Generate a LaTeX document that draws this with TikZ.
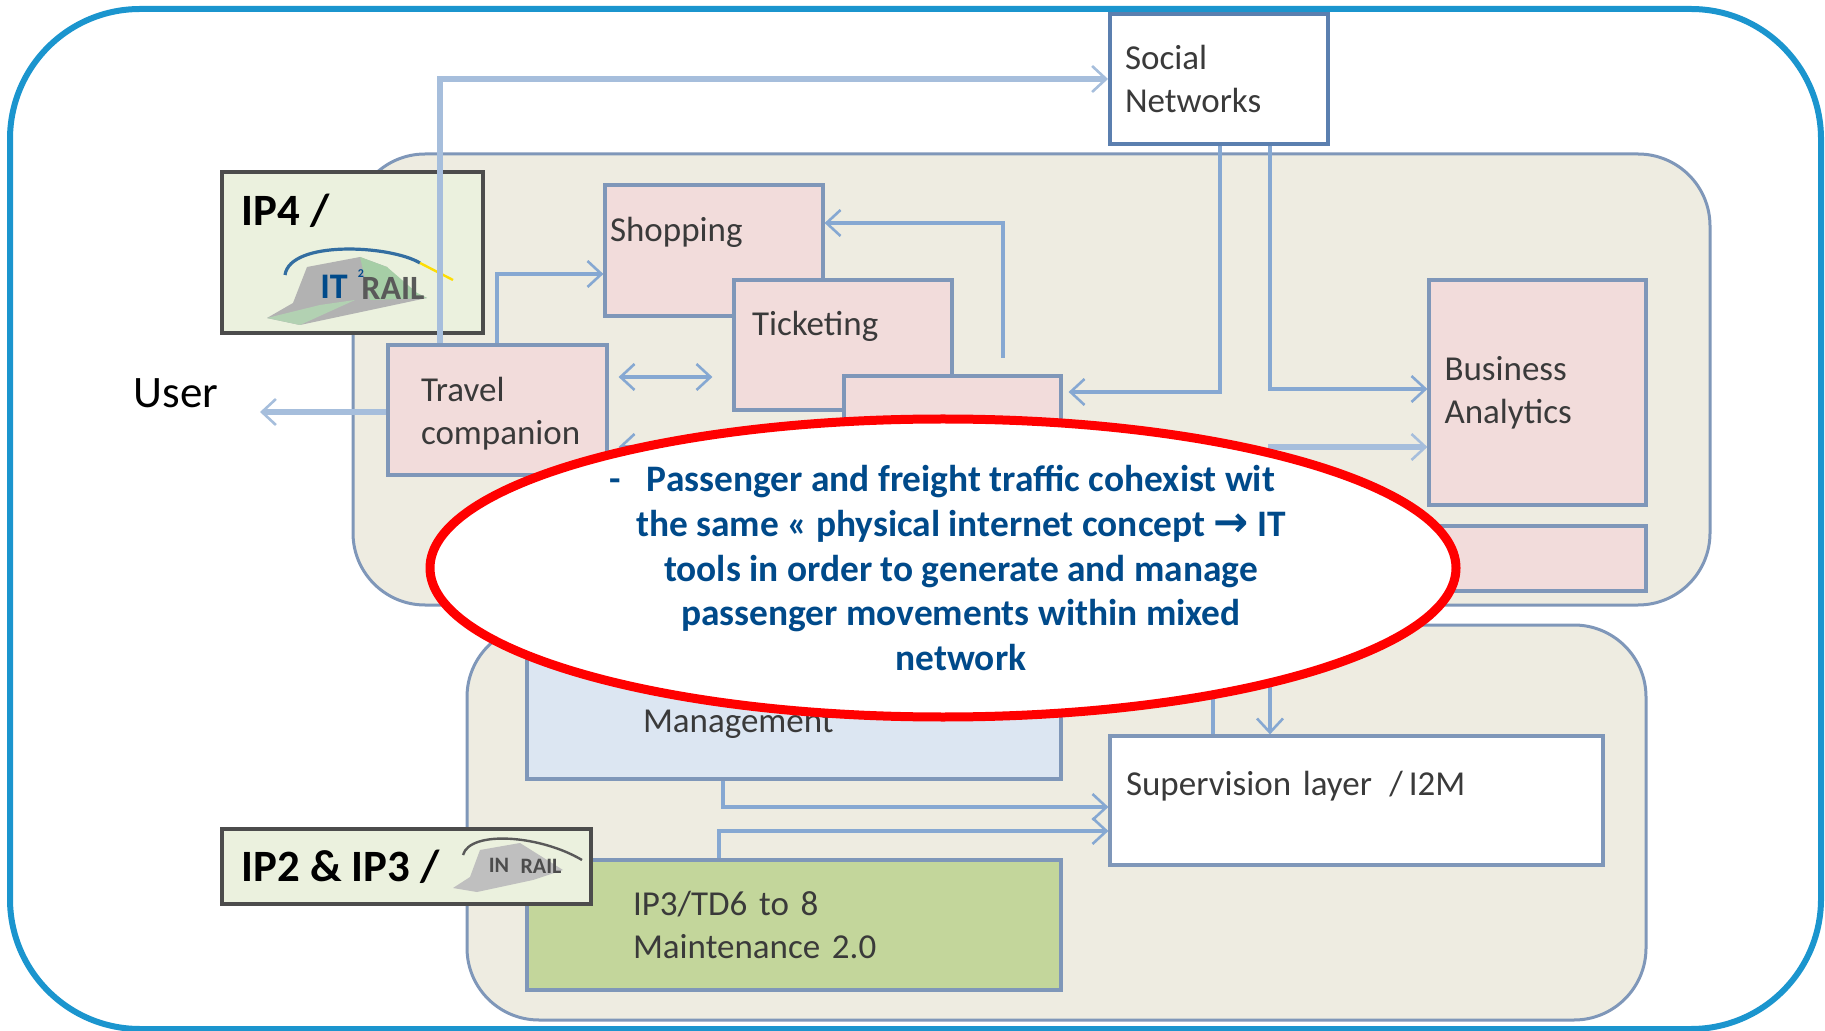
\documentclass[tikz,border=0pt]{standalone}
\usepackage{xcolor}
\usepackage{fontspec}
\setmainfont{Carlito}
\newfontfamily\arrowfont{DejaVu Sans}
\usetikzlibrary{arrows.meta,shapes.geometric}

\definecolor{framecol}{HTML}{1B95CE}
\definecolor{panelcol}{HTML}{EEECE1}
\definecolor{edgecol}{HTML}{7F97B9}
\definecolor{linkcol}{HTML}{86A8D2}
\definecolor{palelink}{HTML}{A6BEDC}
\definecolor{socialcol}{HTML}{5B7FAF}
\definecolor{pinkcol}{HTML}{F2DCDB}
\definecolor{iceblue}{HTML}{DCE6F2}
\definecolor{leafcol}{HTML}{C3D69B}
\definecolor{tagcol}{HTML}{EBF1DE}
\definecolor{notecol}{HTML}{004A8A}
\definecolor{textcol}{HTML}{3A3A3A}

\begin{document}
\begin{tikzpicture}[x=0.5pt,y=-0.5pt,
  >={Straight Barb[length=7pt,width=13pt,line width=1.3pt]}]

    \tikzstyle{frame} = [rectangle,draw=framecol,line width=3pt,rounded corners=65pt,minimum width=905.5pt,minimum height=510pt]
    \tikzstyle{panel} = [rectangle,fill=panelcol,draw=edgecol,line width=1.5pt,rounded corners=36pt]
    \tikzstyle{box} = [rectangle,draw=edgecol,line width=1.6pt,text=textcol,align=left,inner ysep=0pt,font=\fontsize{17.5}{21.5}\selectfont]
    \tikzstyle{pinkbox} = [box,fill=pinkcol]
    \tikzstyle{tag} = [rectangle,fill=tagcol,draw=black!70,line width=1.6pt]
    \tikzstyle{tagtext} = [anchor=west,inner sep=0pt,text=black,font=\fontsize{22.4}{26}\selectfont\bfseries]
    \tikzstyle{link} = [draw=linkcol,line width=1.8pt]
    \tikzstyle{widelink} = [draw=palelink,line width=2.6pt]

  \useasboundingbox (0,0) rectangle (1825,1031);

  \node[frame] (frame) at (915.5,519) {};
  \node[panel,minimum width=678.5pt,minimum height=225.5pt] (upper) at (1031.5,379.5) {};
  \node[panel,minimum width=589.5pt,minimum height=197.5pt] (lower) at (1056.5,822.5) {};

  \node[box,fill=white,draw=socialcol,line width=2pt,minimum width=109pt,minimum height=65pt,text width=94pt,inner xsep=7.5pt] (social) at (1219,79) {Social\\Networks};
  \node[tag,minimum width=130.5pt,minimum height=80.5pt] (ip4) at (352.5,252.5) {};
  \node[pinkbox,minimum width=109.5pt,minimum height=65pt,text width=76.5pt,inner xsep=16.5pt] (travel) at (497.5,410) {\rule{0pt}{16pt}Travel\\companion};
  \node[pinkbox,minimum width=109pt,minimum height=65.5pt,text width=104pt,inner xsep=2.5pt] (shopping) at (714,250.5) {Shopping\\~};
  \node[pinkbox,minimum width=109pt,minimum height=65pt,text width=91pt,inner xsep=9pt] (ticketing) at (843,345) {Ticketing\\~};
  \node[pinkbox,minimum width=108.5pt,minimum height=65pt] (thirdbox) at (952.5,441) {};
  \node[pinkbox,minimum width=108.5pt,minimum height=112.5pt,text width=93pt,inner xsep=7.75pt] (business) at (1537.5,392.5) {Business\\Analytics};
  \node[pinkbox,minimum width=108.5pt,minimum height=32.5pt] (lowerpink) at (1537.5,558.5) {};
  \node[box,fill=iceblue,minimum width=267pt,minimum height=65pt,text width=151pt,inner xsep=58pt] (manage) at (794,714) {~\\Management};
  \node[box,fill=white,minimum width=246.5pt,minimum height=64.5pt,text width=230.5pt,inner xsep=8pt] (supervision) at (1356.5,800.5) {Supervision layer\ \,/\,I2M\\[-4.6pt]~};
  \node[box,fill=leafcol,minimum width=267pt,minimum height=65pt,text width=161pt,inner xsep=53pt] (maintenance) at (794,925) {IP3/TD6 to 8\\Maintenance 2.0};
  \node[tag,minimum width=184.5pt,minimum height=37.5pt] (ip23) at (406.5,866.5) {};

  \node[tagtext] (ip4text) at (241,211) {IP4 /};
  \node[tagtext] (ip23text) at (241,867) {IP2 \& IP3 /};
  \node[inner sep=0pt,text=black,font=\fontsize{22.5}{26}\selectfont] (user) at (176,393) {User};

  % IT2Rail logo
  \fill[black!30] (267,318) -- (293,303) -- (307,267) -- (360,257) -- (387,267) -- (400,285) -- (427,298) -- (300,325) -- cycle;
  \fill[green!45!black!35] (360,257) -- (387,267) -- (417,293) -- (427,298) -- (370,300) -- cycle;
  \fill[green!40!black!30] (267,318) -- (320,305) -- (355,300) -- (300,325) -- cycle;
  \draw[notecol!80,line width=1.6pt] (285,275) .. controls (290,240) and (390,245) .. (420,263);
  \draw[yellow!80!orange,line width=1.2pt] (420,263) -- (453,280);
  \node[inner sep=0pt,text=notecol,font=\fontsize{18}{18}\selectfont\bfseries] (itmark) at (334,287) {IT};
  \node[inner sep=0pt,text=notecol,font=\fontsize{6}{6}\selectfont\bfseries] (itsquare) at (361,274) {2};
  \node[inner sep=0pt,text=black!65,font=\fontsize{17}{17}\selectfont\bfseries] (itrail) at (393,288) {RAIL};

  % In2Rail logo
  \fill[black!25] (453,888) -- (470,877) -- (480,850) -- (520,843) -- (563,870) -- (533,880) -- (477,892) -- cycle;
  \draw[black!65,line width=1.2pt] (463,855) .. controls (470,830) and (540,835) .. (582,860);
  \node[inner sep=0pt,text=black!70,font=\fontsize{11}{11}\selectfont\bfseries] (inmark) at (499,865) {IN};
  \node[inner sep=0pt,text=black!70,font=\fontsize{11}{11}\selectfont\bfseries] (inrail) at (541,866) {RAIL};

  % connectors
  \coordinate (socialrow) at (440,79);
  \coordinate (shoprow) at (497,274);
  \coordinate (midrow) at (660,377);
  \coordinate (userend) at (260,412);
  \coordinate (lowrow) at (660,447);
  \coordinate (thirdtop) at (1003,358);
  \coordinate (shopentry) at (1003,223);
  \coordinate (leftdrop) at (1220,392);
  \coordinate (rightdrop) at (1270,389);
  \coordinate (hiddenstart) at (1268,447);
  \coordinate (supA) at (1213,650);
  \coordinate (supB) at (1270,650);
  \coordinate (manageout) at (723,807);
  \coordinate (leafout) at (719,831);

  \draw[widelink,->] (travel.north -| socialrow) |- (social.west |- socialrow);
  \draw[link,->] (travel.north -| shoprow) |- (shopping.west |- shoprow);
  \draw[link,->] (thirdtop) |- (shopping.east |- shopentry);
  \draw[link,->,shorten >=3pt] (social.south -| leftdrop) |- (thirdbox.east |- leftdrop);
  \draw[link,->] (social.south -| rightdrop) |- (business.west |- rightdrop);
  \draw[link,->] (manage.south -| manageout) |- (supervision.west |- manageout);
  \draw[link,->] (maintenance.north -| leafout) |- (supervision.west |- leafout);

  \path[link]
    (travel.east |- midrow) edge [<->,shorten <=5pt,shorten >=10pt] (ticketing.west |- midrow)
    (thirdbox.west |- lowrow) edge [->,shorten >=5pt] (travel.east |- lowrow)
    (supA) edge (supervision.north -| supA)
    (supB) edge [->] (supervision.north -| supB);

  \path[widelink]
    (travel.west |- userend) edge [->] (userend)
    (hiddenstart) edge [->] (business.west |- hiddenstart);

  \node[ellipse,draw=red,fill=white,line width=4.5pt,inner sep=0pt,minimum width=513pt,minimum height=149pt] (note) at (943,568) {};
  \node[inner sep=0pt,align=center,text=notecol,font=\fontsize{18.7}{22.3}\selectfont\bfseries] (notetext) at (961,568)
    {\llap{-\hspace{13pt}}Passenger and freight traffic cohexist wit\\
     the same « physical internet concept {\arrowfont\fontsize{21}{22.3}\selectfont →} IT\\
     tools in order to generate and manage\\
     passenger movements within mixed\\
     network};

\end{tikzpicture}
\end{document}
